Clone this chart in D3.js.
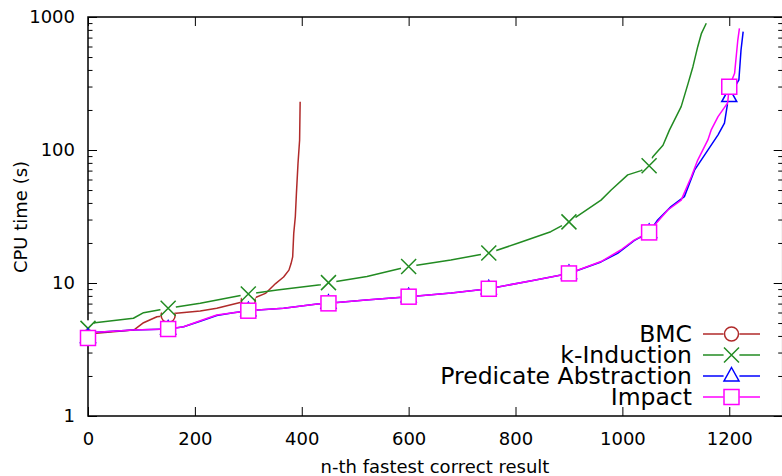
<!DOCTYPE html>
<html>
<head>
<meta charset="utf-8">
<script src="https://cdn.jsdelivr.net/npm/d3@7"></script>
<style>
  body { margin: 0; background: #fff; }
  svg { display: block; font-family: "DejaVu Sans", sans-serif; }
</style>
</head>
<body>
<svg width="782" height="476"></svg>
<script>
// [n-th result, cpu seconds]
const bmc = [[0,3.9],[5,4.15],[85,4.43],[88,4.5],[104,5.03],[129,5.58],[150,5.7],[160,5.9],[210,6.15],[241,6.45],[298,7.36],[300,7.4],
  [332,8.35],[351,9.9],[366,11.1],[376,12.5],[380,14],[383,15.7],[385,23.6],[388,31.6],[390,47],[393,79.5],[396,119],[397,231]];
const kInduction = [[0,4.56],[13,5.03],[85,5.43],[104,5.98],[150,6.45],[210,7.03],[300,8.27],[354,8.87],[435,9.7],[450,10.06],
  [522,11.2],[600,13.3],[679,14.9],[750,16.8],[804,19.9],[866,24.3],[900,28.8],[960,42],[979,50],[1010,65],[1035,70],[1050,76.2],
  [1057,89],[1076,108.6],[1088,141],[1110,212],[1123,317],[1132,423],[1141,598],[1148,754],[1157,897]];
const predAbs = [[0,3.9],[5,4.15],[16,4.26],[85,4.43],[135,4.49],[150,4.5],[179,4.69],[210,5.15],[241,5.7],[272,5.98],[300,6.19],
  [366,6.45],[429,6.95],[450,7.03],[520,7.45],[600,7.89],[680,8.4],[750,9.05],[835,10.5],[900,11.8],[960,14.4],[991,16.7],
  [1022,20.8],[1050,24.0],[1066,29.8],[1091,37.5],[1116,44.6],[1135,70.6],[1154,92],[1179,130],[1191,159],[1197,226],[1200,252],
  [1218,336],[1222,565],[1226,776]];
const impact = [[0,3.86],[5,4.2],[16,4.26],[85,4.43],[135,4.49],[150,4.51],[179,4.69],[210,5.2],[241,5.74],[272,5.98],[300,6.19],
  [366,6.45],[429,6.95],[450,7.03],[520,7.45],[600,7.89],[680,8.4],[750,9.05],[835,10.5],[900,11.8],[960,14.5],[997,17.7],
  [1022,21],[1050,24.0],[1063,28],[1085,35.4],[1110,42],[1129,63],[1141,84],[1160,119],[1166,141],[1179,178],[1197,226],[1200,299],
  [1210,377],[1216,671],[1219,822]];

const seriesNames = ["BMC", "k-Induction", "Predicate Abstraction", "Impact"];
const seriesData = [bmc, kInduction, predAbs, impact];
const xTicks = [0, 200, 400, 600, 800, 1000, 1200];
const yTicks = [1, 10, 100, 1000];

const colors = ["#b02a2a", "#228b22", "#0000ff", "#ff00ff"];
const shapes = ["circle", "cross", "triangle", "square"];
const markerEvery = 150;

const svg = d3.select("svg");

let x = d3.scaleLinear().domain([0, 1300]).range([88, 782.7]);
let y = d3.scaleLog().domain([1, 1000]).range([416, 17]);

let minorTicks = [];
[1, 10, 100].forEach(function(d) {
  for (let k = 2; k <= 9; k++) minorTicks.push(d * k);
});

function clean(g) {
  g.select(".domain").remove();
  g.selectAll(".tick line").attr("stroke", "#000").attr("stroke-width", 1);
}

// bottom / top
svg.append("g").attr("transform", "translate(0,416)")
  .call(d3.axisBottom(x).tickValues(xTicks).tickSize(-9).tickPadding(16).tickFormat(d3.format("d")))
  .call(clean)
  .selectAll("text").attr("font-size", 18).attr("font-family", "DejaVu Sans").attr("fill", "#000");
svg.append("g").attr("transform", "translate(0,17)")
  .call(d3.axisTop(x).tickValues(xTicks).tickSize(-9).tickFormat(""))
  .call(clean);

// left / right
svg.append("g").attr("transform", "translate(88,0)")
  .call(d3.axisLeft(y).tickValues(yTicks).tickSize(-9).tickPadding(13).tickFormat(d3.format("d")))
  .call(clean)
  .selectAll("text").attr("font-size", 18).attr("font-family", "DejaVu Sans").attr("fill", "#000");
svg.append("g").attr("transform", "translate(88,0)")
  .call(d3.axisLeft(y).tickValues(minorTicks).tickSize(-4.5).tickFormat(""))
  .call(clean);
svg.append("g").attr("transform", "translate(782.7,0)")
  .call(d3.axisRight(y).tickValues(yTicks).tickSize(-9).tickFormat(""))
  .call(clean);
svg.append("g").attr("transform", "translate(782.7,0)")
  .call(d3.axisRight(y).tickValues(minorTicks).tickSize(-4.5).tickFormat(""))
  .call(clean);

// frame
svg.append("rect")
  .attr("x", 88).attr("y", 17)
  .attr("width", 782.7 - 88).attr("height", 416 - 17)
  .attr("fill", "none").attr("stroke", "#000").attr("stroke-width", 1.5);

// axis titles
svg.append("text")
  .attr("x", 435).attr("y", 473)
  .attr("text-anchor", "middle")
  .attr("font-size", 18)
  .text("n-th fastest correct result");
svg.append("text")
  .attr("text-anchor", "middle")
  .attr("transform", "translate(27,217)rotate(-90)")
  .attr("font-size", 18)
  .text("CPU time (s)");

// gnuplot clears a small disc under each point before drawing it
function drawMarker(g, shape, color, cx, cy) {
  g.append("circle").attr("cx", cx).attr("cy", cy).attr("r", 8).attr("fill", "#fff");
  if (shape === "circle") {
    g.append("circle").attr("cx", cx).attr("cy", cy).attr("r", 7)
      .attr("fill", "none").attr("stroke", color).attr("stroke-width", 1.5);
  } else if (shape === "cross") {
    g.append("path").attr("d", `M${cx-7.5},${cy-7.5}L${cx+7.5},${cy+7.5}M${cx-7.5},${cy+7.5}L${cx+7.5},${cy-7.5}`)
      .attr("fill", "none").attr("stroke", color).attr("stroke-width", 1.5);
  } else if (shape === "triangle") {
    g.append("path").attr("d", `M${cx},${cy-8.5}L${cx+7.5},${cy+5}L${cx-7.5},${cy+5}Z`)
      .attr("fill", "none").attr("stroke", color).attr("stroke-width", 1.5);
  } else {
    g.append("rect").attr("x", cx - 7.5).attr("y", cy - 7.5).attr("width", 15).attr("height", 15)
      .attr("fill", "#fff").attr("stroke", color).attr("stroke-width", 1.5);
  }
}

let line = d3.line()
  .x(function(d) { return x(d[0]); })
  .y(function(d) { return y(d[1]); });

seriesData.forEach(function(data, i) {
  let marks = data.filter(function(d) { return d[0] % markerEvery === 0; });

  svg.append("path")
    .attr("d", line(data))
    .attr("fill", "none")
    .attr("stroke", colors[i])
    .attr("stroke-width", 1.5)
    .attr("stroke-linejoin", "round");

  let g = svg.append("g");
  marks.forEach(function(d) { drawMarker(g, shapes[i], colors[i], x(d[0]), y(d[1])); });
});

// legend
let legendRight = 692, legendTop = 334, legendStep = 21;
seriesNames.forEach(function(name, i) {
  let ly = legendTop + i * legendStep;
  svg.append("text")
    .attr("x", legendRight).attr("y", ly)
    .attr("dy", "0.36em")
    .attr("text-anchor", "end")
    .attr("font-size", 23.5)
    .text(name);
  let mx = 731.5;
  svg.append("path")
    .attr("d", `M703,${ly}L760,${ly}`)
    .attr("stroke", colors[i]).attr("stroke-width", 1.5).attr("fill", "none");
  drawMarker(svg.append("g"), shapes[i], colors[i], mx, ly);
});
</script>
</body>
</html>
